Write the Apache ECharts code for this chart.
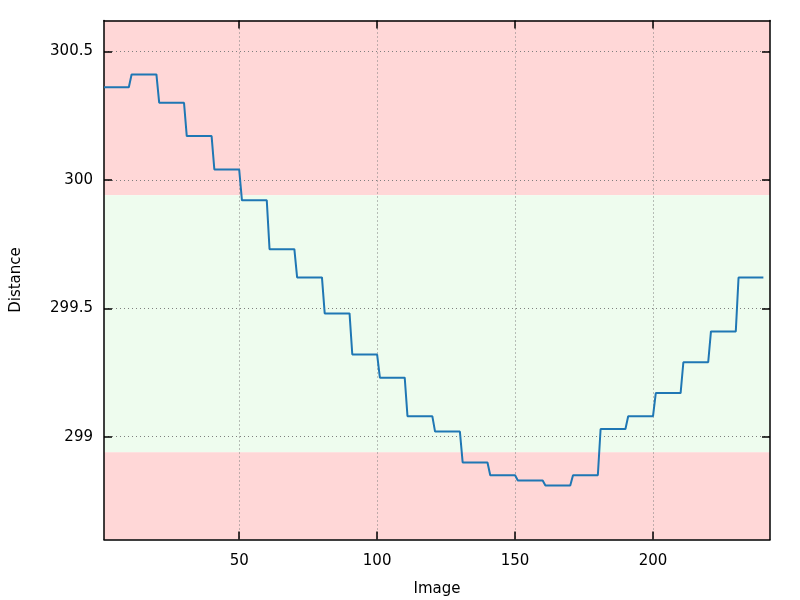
<!DOCTYPE html>
<html>
<head>
<meta charset="utf-8">
<script src="https://cdn.jsdelivr.net/npm/echarts@6/dist/echarts.min.js"></script>
<style>html,body{margin:0;padding:0;background:#fff}#c{width:800px;height:600px}</style>
</head>
<body>
<div id="c"></div>
<script>
// Distance value for each block of 10 images (images 1-10, 11-20, ...)
var stepValues = [300.36, 300.41, 300.30, 300.17, 300.04, 299.92, 299.73, 299.62,
  299.48, 299.32, 299.23, 299.08, 299.02, 298.90, 298.85, 298.83,
  298.81, 298.85, 299.03, 299.08, 299.17, 299.29, 299.41, 299.62];
var imagesPerStep = 10;
var xTicks = [50, 100, 150, 200];
var yTicks = [299, 299.5, 300, 300.5];
var bandLow = 298.94, bandHigh = 299.94;

var data = [];
for (var i = 0; i < stepValues.length; i++) {
  for (var j = 1; j <= imagesPerStep; j++) {
    data.push([i * imagesPerStep + j, stepValues[i]]);
  }
}

var font = 'DejaVu Sans';
var chart = echarts.init(document.getElementById('c'));
var xMin = 1, xMax = 242.4, yMin = 298.6, yMax = 300.62;
var gridLine = {show: true, lineStyle: {color: '#7f7f7f', type: [1, 3], width: 1}};
chart.setOption({
  animation: false,
  backgroundColor: '#fff',
  grid: {left: 104, right: 30, top: 20.5, bottom: 60.5, outerBoundsMode: 'none', containLabel: false},
  xAxis: [{
    type: 'value', min: xMin, max: xMax, interval: 50, z: 3,
    customValues: xTicks,
    name: 'Image', nameLocation: 'middle', nameGap: 42,
    nameTextStyle: {fontFamily: font, fontSize: 15, color: '#000'},
    axisLine: {show: true, lineStyle: {color: '#000', width: 1.5}},
    axisTick: {show: true, inside: true, length: 8, lineStyle: {color: '#000', width: 1.5}, customValues: xTicks},
    axisLabel: {fontFamily: font, fontSize: 15, color: '#000', margin: 14, customValues: xTicks},
    splitLine: gridLine
  }, {
    type: 'value', min: xMin, max: xMax, position: 'top', z: 3,
    axisLine: {show: true, lineStyle: {color: '#000', width: 1.5}},
    axisTick: {show: true, inside: true, length: 8, lineStyle: {color: '#000', width: 1.5}, customValues: xTicks},
    axisLabel: {show: false},
    splitLine: {show: false}
  }],
  yAxis: [{
    type: 'value', min: yMin, max: yMax, z: 3,
    name: 'Distance', nameLocation: 'middle', nameGap: 80, nameRotate: 90,
    nameTextStyle: {fontFamily: font, fontSize: 15, color: '#000'},
    axisLine: {show: true, lineStyle: {color: '#000', width: 1.5}},
    axisTick: {show: true, inside: true, length: 8, lineStyle: {color: '#000', width: 1.5}, customValues: yTicks},
    axisLabel: {fontFamily: font, fontSize: 15, color: '#000', margin: 11, customValues: yTicks},
    splitLine: gridLine
  }, {
    type: 'value', min: yMin, max: yMax, position: 'right', z: 3,
    axisLine: {show: true, lineStyle: {color: '#000', width: 1.5}},
    axisTick: {show: true, inside: true, length: 8, lineStyle: {color: '#000', width: 1.5}, customValues: yTicks},
    axisLabel: {show: false},
    splitLine: {show: false}
  }],
  series: [{
    type: 'line', data: [], z: 0,
    markArea: {
      silent: true, z: 0,
      data: [
        [{yAxis: bandHigh, itemStyle: {color: '#ffd7d7'}}, {yAxis: yMax}],
        [{yAxis: bandLow, itemStyle: {color: '#eefcee'}}, {yAxis: bandHigh}],
        [{yAxis: yMin, itemStyle: {color: '#ffd7d7'}}, {yAxis: bandLow}]
      ]
    }
  }, {
    type: 'line', data: data, z: 5, showSymbol: false, symbol: 'none',
    lineStyle: {color: '#1f77b4', width: 2}
  }]
});
</script>
</body>
</html>
